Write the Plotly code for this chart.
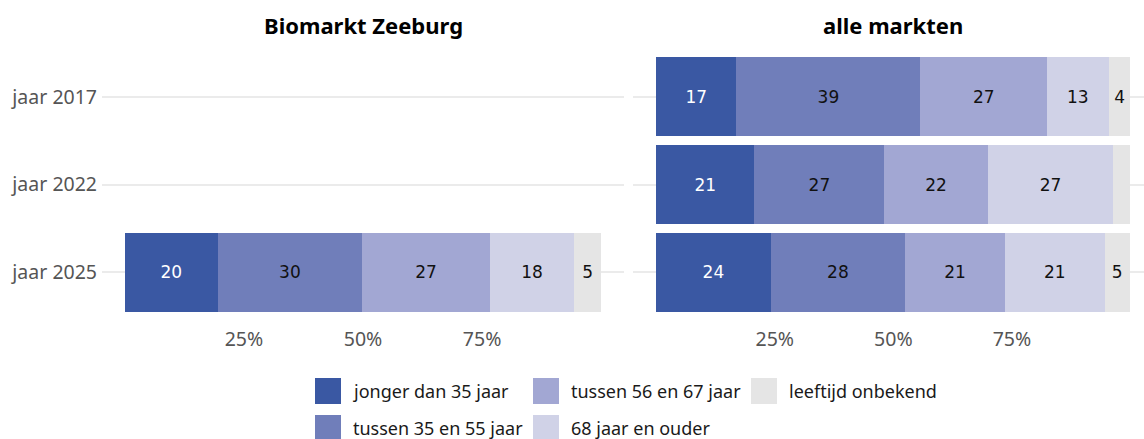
import plotly.graph_objects as go

W, H = 1144, 439

categories = ["jonger dan 35 jaar", "tussen 35 en 55 jaar", "tussen 56 en 67 jaar",
              "68 jaar en ouder", "leeftijd onbekend"]
colors = ["#3a58a3", "#707eba", "#a2a7d3", "#d0d2e7", "#e5e5e5"]
text_colors = ["white", "#111111", "#111111", "#111111", "#111111"]

years = ["jaar 2017", "jaar 2022", "jaar 2025"]

# Biomarkt Zeeburg (only 2025)
zeeburg_years = ["jaar 2025"]
zeeburg_values = {
    "jonger dan 35 jaar": [19.5],
    "tussen 35 en 55 jaar": [30.3],
    "tussen 56 en 67 jaar": [26.9],
    "68 jaar en ouder": [17.6],
    "leeftijd onbekend": [5.7],
}
zeeburg_labels = {
    "jonger dan 35 jaar": ["20"],
    "tussen 35 en 55 jaar": ["30"],
    "tussen 56 en 67 jaar": ["27"],
    "68 jaar en ouder": ["18"],
    "leeftijd onbekend": ["5"],
}

# alle markten
alle_years = ["jaar 2017", "jaar 2022", "jaar 2025"]
alle_values = {
    "jonger dan 35 jaar": [16.9, 20.7, 24.1],
    "tussen 35 en 55 jaar": [38.8, 27.4, 28.4],
    "tussen 56 en 67 jaar": [26.7, 21.8, 21.0],
    "68 jaar en ouder": [13.0, 26.5, 21.1],
    "leeftijd onbekend": [4.6, 3.6, 5.2],
}
alle_labels = {
    "jonger dan 35 jaar": ["17", "21", "24"],
    "tussen 35 en 55 jaar": ["39", "27", "28"],
    "tussen 56 en 67 jaar": ["27", "22", "21"],
    "68 jaar en ouder": ["13", "27", "21"],
    "leeftijd onbekend": ["4", "", "5"],
}

xticks = [25, 50, 75]
xticklabels = ["25%", "50%", "75%"]

panel_titles = ["Biomarkt Zeeburg", "alle markten"]

FONT = "Noto Sans"
BAR_FONT = "DejaVu Sans"


def px(x):
    return x / W


def py(y):
    return 1 - y / H


fig = go.Figure()

for i, cat in enumerate(categories):
    fig.add_trace(go.Bar(
        y=zeeburg_years, x=zeeburg_values[cat], orientation="h",
        name=cat, marker=dict(color=colors[i], line=dict(width=0)),
        text=zeeburg_labels[cat], textposition="inside", insidetextanchor="middle",
        textangle=0, constraintext="none",
        textfont=dict(family=BAR_FONT, size=17, color=text_colors[i]),
        xaxis="x", yaxis="y", showlegend=False, width=0.9, hoverinfo="x+name",
    ))
    fig.add_trace(go.Bar(
        y=alle_years, x=alle_values[cat], orientation="h",
        name=cat, marker=dict(color=colors[i], line=dict(width=0)),
        text=alle_labels[cat], textposition="inside", insidetextanchor="middle",
        textangle=0, constraintext="none",
        textfont=dict(family=BAR_FONT, size=17, color=text_colors[i]),
        xaxis="x2", yaxis="y2", showlegend=False, width=0.9, hoverinfo="x+name",
    ))

ydom = [py(325), py(44)]
common_x = dict(
    tickvals=xticks, ticktext=xticklabels, showgrid=False, zeroline=False,
    showline=False, ticks="", tickfont=dict(family=FONT, size=19.5, color="#555555"),
    fixedrange=True,
)
common_y = dict(
    type="category", categoryorder="array", categoryarray=years[::-1],
    range=[-0.6, 2.6], showgrid=True, gridcolor="#ebebeb", gridwidth=1.5,
    zeroline=False, showline=False, ticks="", domain=ydom,
    tickfont=dict(family=FONT, size=19.5, color="#555555"), fixedrange=True,
)

fig.update_layout(
    width=W, height=H, autosize=False,
    margin=dict(l=0, r=0, t=0, b=0),
    paper_bgcolor="white", plot_bgcolor="white",
    barmode="stack", bargap=0.1,
    showlegend=False,
    xaxis=dict(domain=[px(102), px(624)], range=[-4.8, 104.8], anchor="y", **common_x),
    yaxis=dict(anchor="x", showticklabels=True, ticklabelstandoff=4, **common_y),
    xaxis2=dict(domain=[px(633), 1.0], range=[-4.9, 102.85], anchor="y2", **common_x),
    yaxis2=dict(anchor="x2", showticklabels=False, **common_y),
)

# panel titles
for ax, t in zip(["x", "x2"], panel_titles):
    fig.add_annotation(
        x=50, xref=ax, y=py(25), yref="paper", text=f"<b>{t}</b>",
        showarrow=False, xanchor="center", yanchor="middle",
        font=dict(family=FONT, size=22, color="#000000"),
    )

# legend (column-major order, like the reference)
leg_cols_x = [315, 533, 751]
leg_rows_y = [391, 428]
for i, cat in enumerate(categories):
    col, row = divmod(i, 2)
    x0 = leg_cols_x[col]
    yc = leg_rows_y[row]
    fig.add_shape(
        type="rect", xref="paper", yref="paper",
        x0=px(x0), x1=px(x0 + 26), y0=py(yc + 13), y1=py(yc - 13),
        fillcolor=colors[i], line=dict(width=0),
    )
    fig.add_annotation(
        x=px(x0 + 36), y=py(yc), xref="paper", yref="paper", text=cat,
        showarrow=False, xanchor="left", yanchor="middle",
        font=dict(family=FONT, size=18, color="#1a1a1a"),
    )

fig.write_html(
    "out.html",
    config={"displayModeBar": False},
    post_script="document.body.style.margin='0';document.body.style.overflow='hidden';",
)
